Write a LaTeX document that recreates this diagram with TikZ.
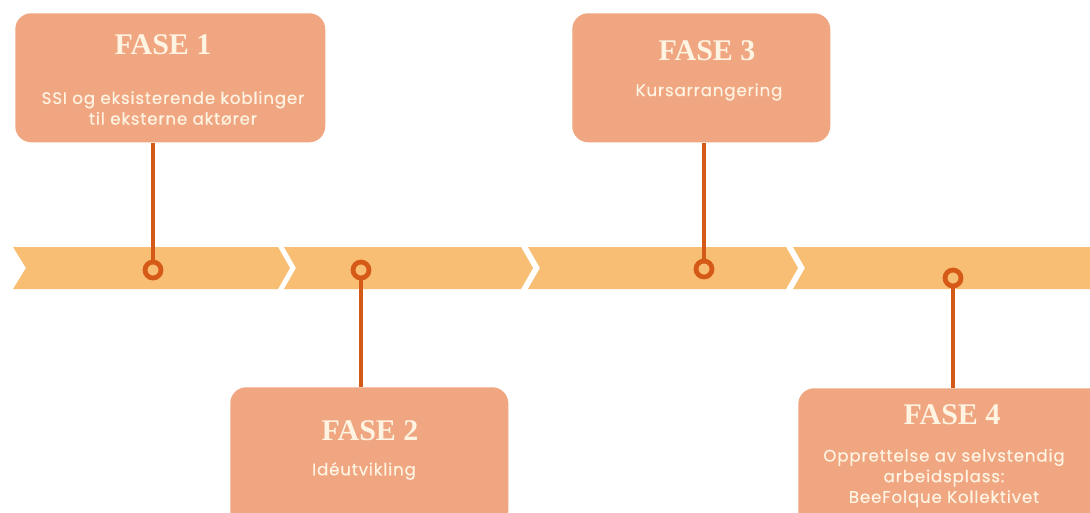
\documentclass[tikz,border=0pt]{standalone}
\usepackage{fontspec}
\setmainfont{Liberation Serif}
\newfontfamily\bodyfont[LetterSpace=5,FakeBold=0.5]{Poppins}
\definecolor{band}{HTML}{F8BE74}
\definecolor{boxc}{HTML}{EFA681}
\definecolor{linec}{HTML}{D65A17}
\definecolor{txt}{HTML}{FFF3E2}
\begin{document}
\begin{tikzpicture}[x=0.75pt,y=-0.75pt,
  phase/.style={fill=boxc,draw=none,rounded corners=12pt,anchor=north west,inner sep=0pt},
  head/.style={text=txt,font=\fontsize{22.5}{26}\selectfont\bfseries,inner sep=0pt},
  body/.style={text=txt,font=\bodyfont\fontsize{12.5}{15.5}\selectfont,align=center,inner sep=0pt},
  chev/.style={fill=band,draw=none},
  dot/.style={circle,draw=linec,line width=3.6pt,fill=band,minimum size=12pt,inner sep=0pt},
  conn/.style={draw=linec,line width=3.2pt}]
\useasboundingbox (0,0) rectangle (1090,512);
\clip (0,0) rectangle (1090,512);
\fill[white] (0,0) rectangle (1090,512);
% band
\fill[chev] (13,247) -- (278,247) -- (290,268) -- (278,289) -- (13,289) -- (26,268) -- cycle;
\fill[chev] (284,247) -- (521,247) -- (533,268) -- (521,289) -- (284,289) -- (296,268) -- cycle;
\fill[chev] (528,247) -- (786,247) -- (798,268) -- (786,289) -- (528,289) -- (540,268) -- cycle;
\fill[chev] (793,247) -- (1100,247) -- (1100,289) -- (793,289) -- (805,268) -- cycle;
% boxes
\node[phase,minimum width=310*0.75pt,minimum height=129*0.75pt] (b1) at (15,13) {};
\node[phase,minimum width=258*0.75pt,minimum height=129*0.75pt] (b3) at (572,13) {};
\node[phase,minimum width=278*0.75pt,minimum height=140*0.75pt] (b2) at (230,387) {};
\node[phase,minimum width=310*0.75pt,minimum height=140*0.75pt] (b4) at (798,388) {};
% texts
\node[head] (h1) at (163,45) {FASE 1};
\node[body] (t1) at (173,108) {SSI og eksisterende koblinger\\ til eksterne aktører};
\node[head] (h3) at (707,51) {FASE 3};
\node[body] (t3) at (709,92) {Kursarrangering};
\node[head] (h2) at (370,431) {FASE 2};
\node[body] (t2) at (364,471) {Idéutvikling};
\node[head] (h4) at (952,415) {FASE 4};
\node[body] (t4) at (944,478) {Opprettelse av selvstendig\\ arbeidsplass:\\ BeeFolque Kollektivet};
% circles
\node[dot] (c1) at (153,270) {};
\node[dot] (c2) at (361,270) {};
\node[dot] (c3) at (704,269) {};
\node[dot] (c4) at (953,278) {};
% connectors
\draw[conn] (c1 |- b1.south) -- (c1);
\draw[conn] (c3 |- b3.south) -- (c3);
\draw[conn] (c2 |- b2.north) -- (c2);
\draw[conn] (c4 |- b4.north) -- (c4);
\end{tikzpicture}
\end{document}
